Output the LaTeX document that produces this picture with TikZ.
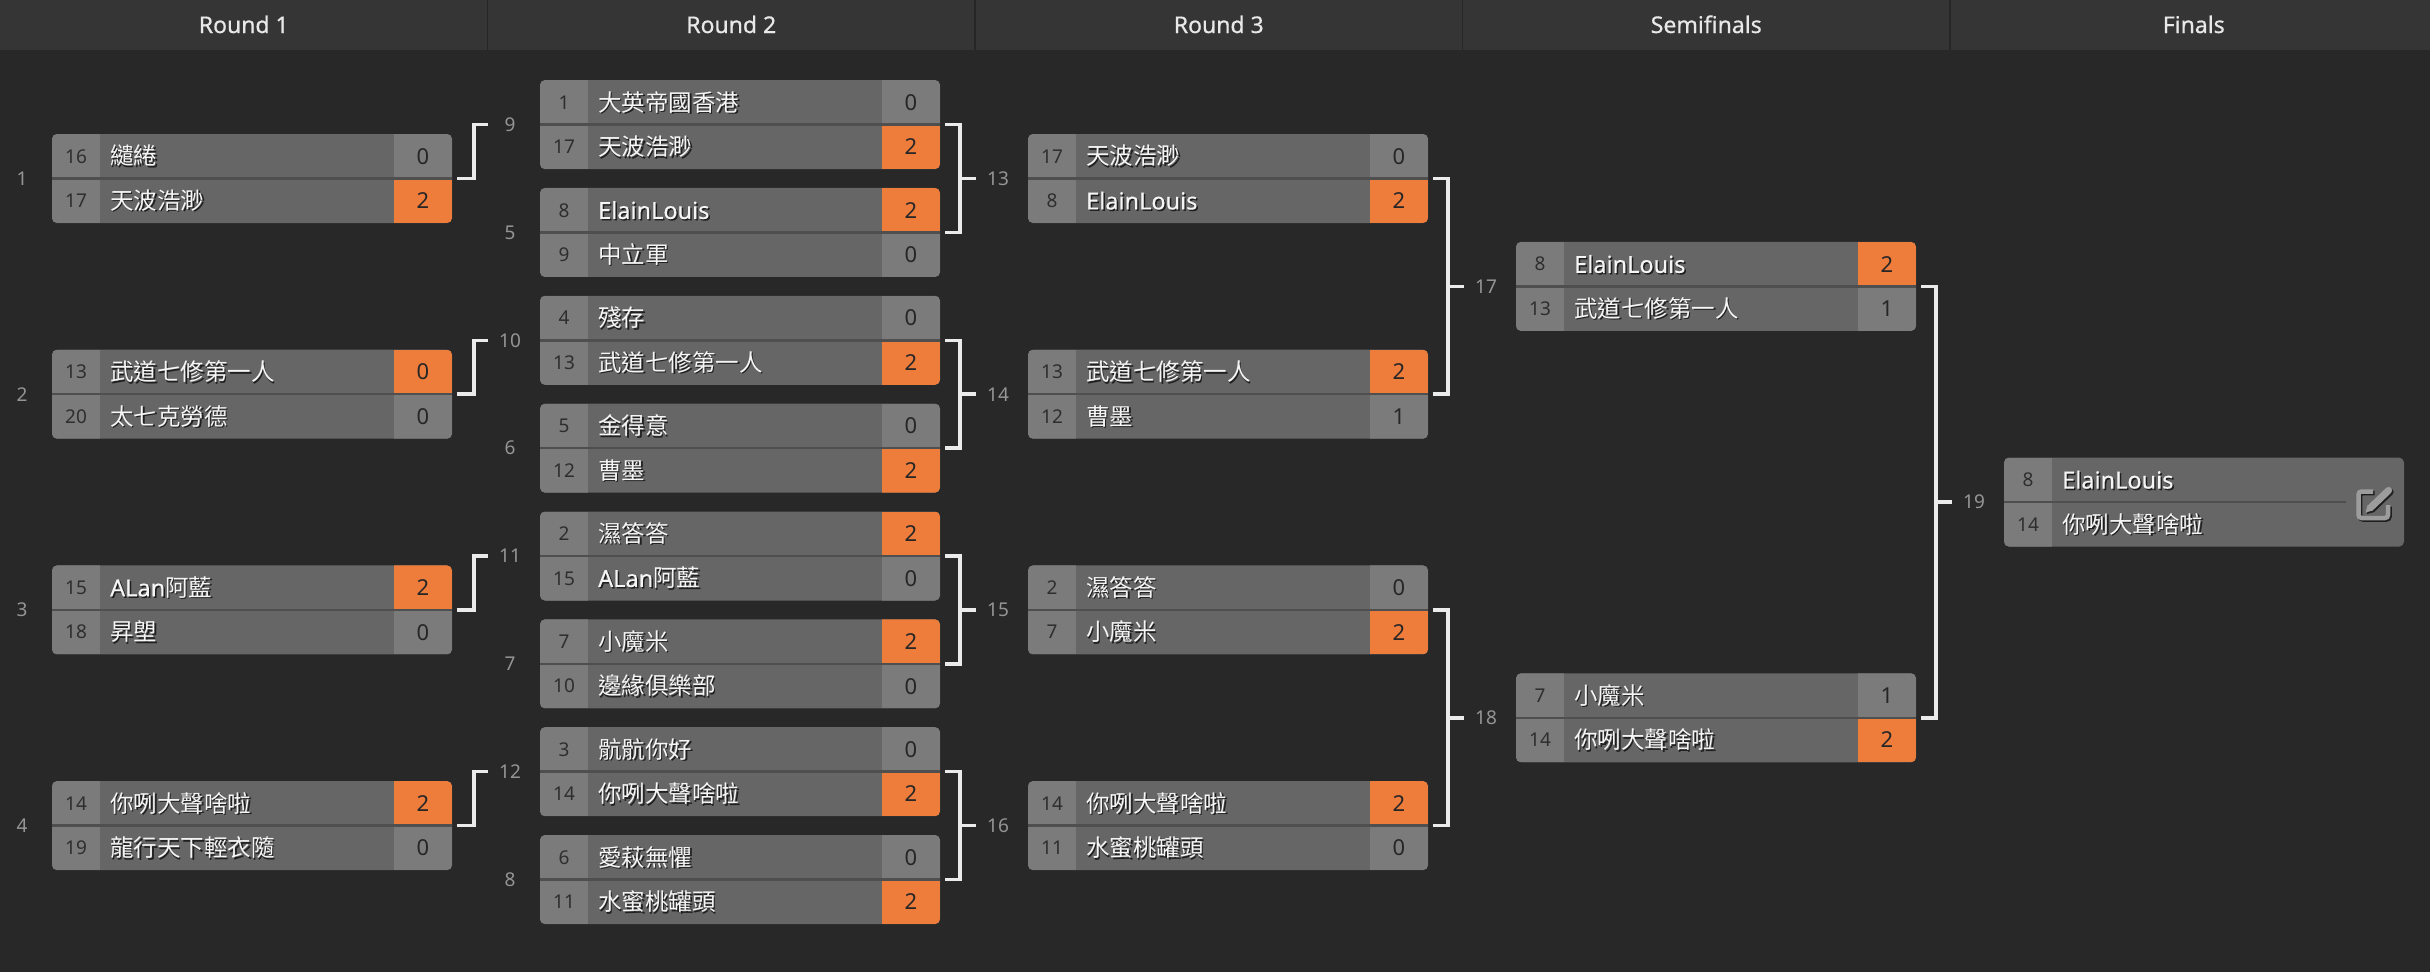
\documentclass[tikz,border=0pt]{standalone}
\usepackage{fontspec}
\setmainfont{Noto Sans}
\newfontfamily\cjk{Noto Sans CJK TC}
\newcommand\zh[1]{{\cjk #1}}
\definecolor{bgc}{HTML}{282828}
\definecolor{hdrc}{HTML}{353535}
\definecolor{divc}{HTML}{262626}
\definecolor{namec}{HTML}{666666}
\definecolor{seedc}{HTML}{7B7B7B}
\definecolor{grayc}{HTML}{7B7B7B}
\definecolor{orng}{HTML}{EE7D3B}
\definecolor{sepc}{HTML}{4F4F4F}
\definecolor{brc}{HTML}{EBEBEB}
\definecolor{lblc}{HTML}{959595}
\definecolor{seedtc}{HTML}{2E2E2E}
\definecolor{scoretc}{HTML}{262626}
\definecolor{namet}{HTML}{F5F5F5}
\definecolor{shadc}{HTML}{1F1F1F}
\definecolor{hdrt}{HTML}{E8E8E8}
\definecolor{iconc}{HTML}{9C9C9C}
\tikzset{
  mboxst/.style={rectangle, fill=namec, minimum width=400pt, minimum height=89pt, inner sep=0pt, rounded corners=5pt},
  sepst/.style={draw=sepc, line width=2.5pt},
  br/.style={draw=brc, line width=3.5pt},
  lbl/.style={text=lblc, font=\fontsize{19}{21}\selectfont, inner sep=0pt},
  seedtxt/.style={text=seedtc, font=\fontsize{19}{21}\selectfont, anchor=base, inner sep=0pt},
  nametxt/.style={text=namet, font=\fontsize{23.5}{26}\selectfont\addfontfeature{FakeBold=0.3}, anchor=base west, inner sep=0pt},
  shadowtxt/.style={text=shadc},
  scoretxt/.style={text=scoretc, font=\fontsize{22}{24}\selectfont, anchor=base, inner sep=0pt},
  hdrtxt/.style={text=hdrt, font=\fontsize{23}{25}\selectfont\addfontfeature{FakeBold=0.6}, anchor=base, inner sep=0pt},
  iconst/.style={draw=#1, line width=4.5pt, rounded corners=3pt},
}
% box: id, x-left, y-center, top score colour, bottom score colour
\newcommand\bmatch[5]{%
  \node[mboxst] (m#1) at (#2+200,#3) {};
  \begin{scope}
    \clip[rounded corners=5pt] (#2,#3-44.5) rectangle (#2+400,#3+44.5);
    \fill[seedc] (#2,#3-44.5) rectangle (#2+48,#3+44.5);
    \fill[#4] (#2+342,#3-44.5) rectangle (#2+400,#3);
    \fill[#5] (#2+342,#3) rectangle (#2+400,#3+44.5);
  \end{scope}
  \draw[sepst] (#2,#3) -- (#2+400,#3);
  \node[lbl] (l#1) at (#2-30,#3) {#1};
}
% row without score: id, tag, x, y-row, seed, name
\newcommand\nrow[6]{%
  \node[seedtxt] (m#1s#2) at (#3+24,#4+6.8) {#5};
  \node[nametxt,shadowtxt] at (#3+59.5,#4+10.2) {#6};
  \node[nametxt] (m#1n#2) at (#3+58,#4+8.7) {#6};
}
% row with score
\newcommand\prow[7]{%
  \nrow{#1}{#2}{#3}{#4}{#5}{#6}%
  \node[scoretxt] (m#1c#2) at (#3+371,#4+7.9) {#7};
}
% full match: id, x, yc, seed1, name1, score1, seed2, name2, score2
\newcommand\fullmatch[9]{%
  \prow{#1}{t}{#2}{#3-22.25}{#4}{#5}{#6}%
  \prow{#1}{b}{#2}{#3+22.25}{#7}{#8}{#9}%
}
\newcommand\editicon[1]{%
  \draw[iconst=#1] (2373,491.5) -- (2358.5,491.5) -- (2358.5,518) -- (2388,518) -- (2388,505);
  \draw[draw=#1, line width=7pt, line cap=round] (2370.8,507.4) -- (2388.6,490.4);
  \fill[#1] (2365.5,512.5) -- (2373.2,510.4) -- (2367.6,504.9) -- cycle;
}
\begin{document}
\begin{tikzpicture}[x=1pt,y=-1pt]
\useasboundingbox (0,0) rectangle (2430,972);
\fill[bgc] (0,0) rectangle (2430,972);
% header
\fill[hdrc] (0,0) rectangle (2430,50);
\foreach \k in {1,2,3,4} \draw[divc, line width=1.5pt] (487.5*\k,0) -- (487.5*\k,50);
\node[hdrtxt] (h1) at (243.75,33) {Round 1};
\node[hdrtxt] (h2) at (731.25,33) {Round 2};
\node[hdrtxt] (h3) at (1218.75,33) {Round 3};
\node[hdrtxt] (h4) at (1706.25,33) {Semifinals};
\node[hdrtxt] (h5) at (2193.75,33) {Finals};

% Round 1
\bmatch{1}{52}{178.5}{grayc}{orng}
\fullmatch{1}{52}{178.5}{16}{\zh{繾綣}}{0}{17}{\zh{天波浩渺}}{2}
\bmatch{2}{52}{394.2}{orng}{grayc}
\fullmatch{2}{52}{394.2}{13}{\zh{武道七修第一人}}{0}{20}{\zh{太七克勞德}}{0}
\bmatch{3}{52}{609.9}{orng}{grayc}
\fullmatch{3}{52}{609.9}{15}{ALan\zh{阿藍}}{2}{18}{\zh{昇塱}}{0}
\bmatch{4}{52}{825.6}{orng}{grayc}
\fullmatch{4}{52}{825.6}{14}{\zh{你咧大聲啥啦}}{2}{19}{\zh{龍行天下輕衣隨}}{0}

% Round 2
\bmatch{9}{540}{124.6}{grayc}{orng}
\fullmatch{9}{540}{124.6}{1}{\zh{大英帝國香港}}{0}{17}{\zh{天波浩渺}}{2}
\bmatch{5}{540}{232.45}{orng}{grayc}
\fullmatch{5}{540}{232.45}{8}{ElainLouis}{2}{9}{\zh{中立軍}}{0}
\bmatch{10}{540}{340.3}{grayc}{orng}
\fullmatch{10}{540}{340.3}{4}{\zh{殘存}}{0}{13}{\zh{武道七修第一人}}{2}
\bmatch{6}{540}{448.15}{grayc}{orng}
\fullmatch{6}{540}{448.15}{5}{\zh{金得意}}{0}{12}{\zh{曹墨}}{2}
\bmatch{11}{540}{556.0}{orng}{grayc}
\fullmatch{11}{540}{556.0}{2}{\zh{濕答答}}{2}{15}{ALan\zh{阿藍}}{0}
\bmatch{7}{540}{663.85}{orng}{grayc}
\fullmatch{7}{540}{663.85}{7}{\zh{小魔米}}{2}{10}{\zh{邊緣俱樂部}}{0}
\bmatch{12}{540}{771.7}{grayc}{orng}
\fullmatch{12}{540}{771.7}{3}{\zh{骯骯你好}}{0}{14}{\zh{你咧大聲啥啦}}{2}
\bmatch{8}{540}{879.55}{grayc}{orng}
\fullmatch{8}{540}{879.55}{6}{\zh{愛萩無懼}}{0}{11}{\zh{水蜜桃罐頭}}{2}

% Round 3
\bmatch{13}{1028}{178.5}{grayc}{orng}
\fullmatch{13}{1028}{178.5}{17}{\zh{天波浩渺}}{0}{8}{ElainLouis}{2}
\bmatch{14}{1028}{394.2}{orng}{grayc}
\fullmatch{14}{1028}{394.2}{13}{\zh{武道七修第一人}}{2}{12}{\zh{曹墨}}{1}
\bmatch{15}{1028}{609.9}{grayc}{orng}
\fullmatch{15}{1028}{609.9}{2}{\zh{濕答答}}{0}{7}{\zh{小魔米}}{2}
\bmatch{16}{1028}{825.6}{orng}{grayc}
\fullmatch{16}{1028}{825.6}{14}{\zh{你咧大聲啥啦}}{2}{11}{\zh{水蜜桃罐頭}}{0}

% Semifinals
\bmatch{17}{1516}{286.4}{orng}{grayc}
\fullmatch{17}{1516}{286.4}{8}{ElainLouis}{2}{13}{\zh{武道七修第一人}}{1}
\bmatch{18}{1516}{717.8}{grayc}{orng}
\fullmatch{18}{1516}{717.8}{7}{\zh{小魔米}}{1}{14}{\zh{你咧大聲啥啦}}{2}

% Final
\node[mboxst] (m19) at (2204,502.1) {};
\begin{scope}
  \clip[rounded corners=5pt] (2004,502.1-44.5) rectangle (2404,502.1+44.5);
  \fill[seedc] (2004,502.1-44.5) rectangle (2052,502.1+44.5);
\end{scope}
\draw[sepst] (2004,502.1) -- (2346,502.1);
\node[lbl] (l19) at (1974,502.1) {19};
\nrow{19}{t}{2004}{502.1-22.25}{8}{ElainLouis}
\nrow{19}{b}{2004}{502.1+22.25}{14}{\zh{你咧大聲啥啦}}
\begin{scope}[shift={(1.5,1.5)}]
  \editicon{shadc}
\end{scope}
\editicon{iconc}

% connectors round 1 -> round 2
\foreach \a/\b in {1/9,2/10,3/11,4/12}
  \draw[br] ([xshift=5pt]m\a.east) -- ++(17,0) |- ([xshift=-52pt]m\b.west);
% connectors pairs -> next
\foreach \a/\b/\c in {9/5/13,10/6/14,11/7/15,12/8/16,13/14/17,15/16/18,17/18/19} {
  \draw[br] ([xshift=5pt]m\a.east) -| ([xshift=20pt]m\b.east) -- ([xshift=5pt]m\b.east);
  \draw[br] ([xshift=20pt]m\a.east |- m\c.west) -- ([xshift=-52pt]m\c.west);
}
\end{tikzpicture}
\end{document}
